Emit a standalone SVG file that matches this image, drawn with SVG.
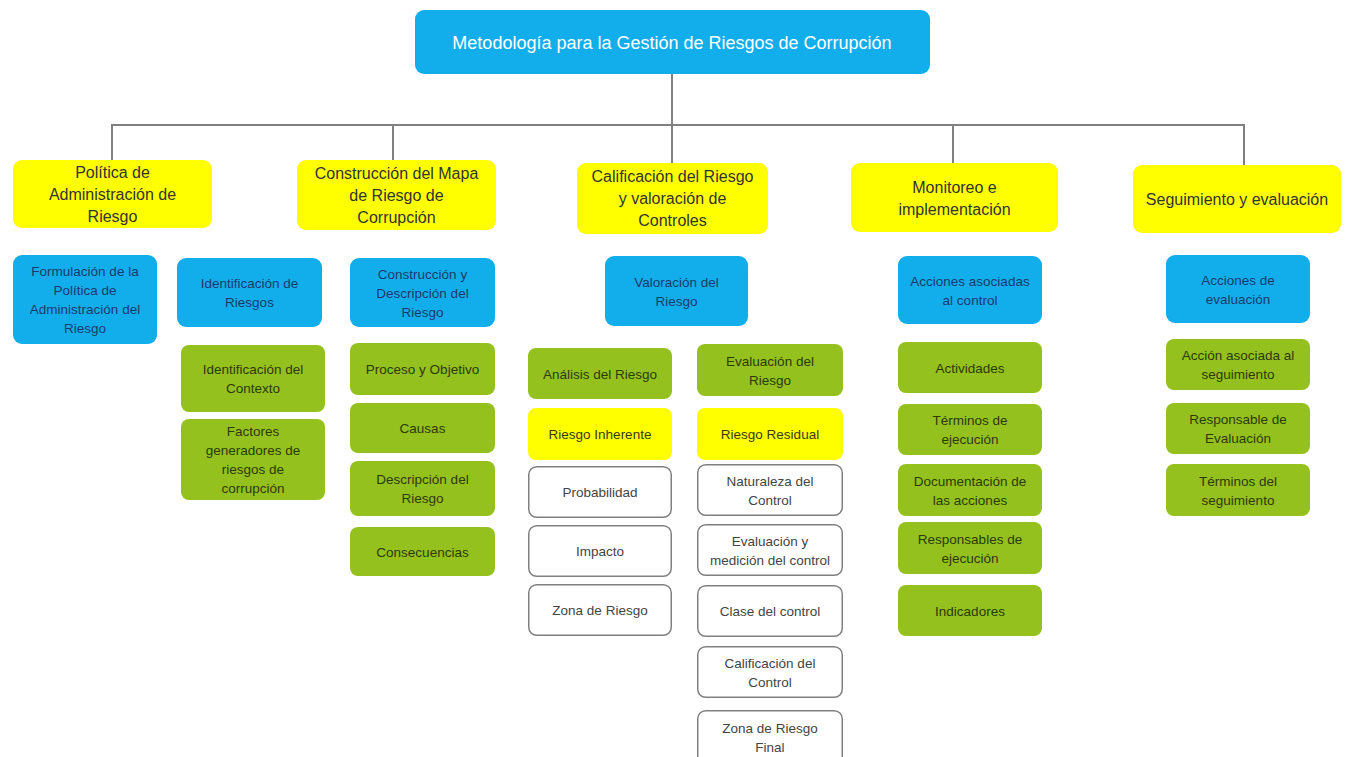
<svg xmlns="http://www.w3.org/2000/svg" width="1347" height="757" viewBox="0 0 1347 757">
<style>
.bg{fill:#ffffff}
.top{fill:#12AEEB}
.y{fill:#FFFF00}
.b{fill:#12AEEB}
.g{fill:#95C11F}
.w{fill:#ffffff;stroke:#808080;stroke-width:1.5}
text{font-family:"Liberation Sans",Arial,sans-serif;text-anchor:middle}
.tt{font-size:18px;fill:#ffffff}
.t1{font-size:16px;fill:#333333}
.tb{font-size:13.5px;fill:#1B3A6B}
.tg{font-size:13.5px;fill:#2A3A08}
.ty{font-size:13.5px;fill:#3A3A10}
.tw{font-size:13.5px;fill:#444444}
.conn line{stroke:#808080;stroke-width:2}
</style>
<rect class="bg" x="0" y="0" width="1347" height="757"/>
<g class="conn" id="connectors">
<line x1="672" y1="74" x2="672" y2="163"/>
<line x1="112" y1="125" x2="1244" y2="125"/>
<line x1="112" y1="124" x2="112" y2="160"/>
<line x1="393" y1="124" x2="393" y2="160"/>
<line x1="953" y1="124" x2="953" y2="163"/>
<line x1="1244" y1="124" x2="1244" y2="165"/>
</g>
<g id="root"><rect class="top" x="415" y="10" width="515" height="64" rx="9"/><text class="tt" x="672" y="49">Metodología para la Gestión de Riesgos de Corrupción</text></g>

<g id="n1"><rect class="y" x="13" y="160" width="199" height="68" rx="9"/><text class="t1"><tspan x="112.5" y="178">Política de</tspan><tspan x="112.5" y="200">Administración de</tspan><tspan x="112.5" y="222">Riesgo</tspan></text></g>
<g id="n2"><rect class="y" x="297" y="160" width="199" height="70" rx="9"/><text class="t1"><tspan x="396.5" y="179">Construcción del Mapa</tspan><tspan x="396.5" y="201">de Riesgo de</tspan><tspan x="396.5" y="223">Corrupción</tspan></text></g>
<g id="n3"><rect class="y" x="577" y="163" width="191" height="71" rx="9"/><text class="t1"><tspan x="672.5" y="182">Calificación del Riesgo</tspan><tspan x="672.5" y="204">y valoración de</tspan><tspan x="672.5" y="226">Controles</tspan></text></g>
<g id="n4"><rect class="y" x="851" y="163" width="207" height="69" rx="9"/><text class="t1"><tspan x="954.5" y="193">Monitoreo e</tspan><tspan x="954.5" y="215">implementación</tspan></text></g>
<g id="n5"><rect class="y" x="1133" y="165" width="208" height="68" rx="9"/><text class="t1" x="1237" y="205">Seguimiento y evaluación</text></g>

<g id="b1"><rect class="b" x="13" y="255" width="144" height="89" rx="9"/><text class="tb"><tspan x="85" y="276">Formulación de la</tspan><tspan x="85" y="295">Política de</tspan><tspan x="85" y="314">Administración del</tspan><tspan x="85" y="333">Riesgo</tspan></text></g>
<g id="b2"><rect class="b" x="177" y="258" width="145" height="69" rx="9"/><text class="tb"><tspan x="249.5" y="288">Identificación de</tspan><tspan x="249.5" y="307">Riesgos</tspan></text></g>
<g id="b3"><rect class="b" x="350" y="258" width="145" height="69" rx="9"/><text class="tb"><tspan x="422.5" y="278.5">Construcción y</tspan><tspan x="422.5" y="297.5">Descripción del</tspan><tspan x="422.5" y="316.5">Riesgo</tspan></text></g>
<g id="b4"><rect class="b" x="605" y="256" width="143" height="70" rx="9"/><text class="tb"><tspan x="676.5" y="286.5">Valoración del</tspan><tspan x="676.5" y="305.5">Riesgo</tspan></text></g>
<g id="b5"><rect class="b" x="898" y="256" width="144" height="68" rx="9"/><text class="tb"><tspan x="970" y="285.5">Acciones asociadas</tspan><tspan x="970" y="304.5">al control</tspan></text></g>
<g id="b6"><rect class="b" x="1166" y="255" width="144" height="68" rx="9"/><text class="tb"><tspan x="1238" y="284.5">Acciones de</tspan><tspan x="1238" y="303.5">evaluación</tspan></text></g>

<g id="g21"><rect class="g" x="181" y="345" width="144" height="67" rx="8"/><text class="tg"><tspan x="253" y="374">Identificación del</tspan><tspan x="253" y="393">Contexto</tspan></text></g>
<g id="g22"><rect class="g" x="181" y="419" width="144" height="81" rx="8"/><text class="tg"><tspan x="253" y="436">Factores</tspan><tspan x="253" y="455">generadores de</tspan><tspan x="253" y="474">riesgos de</tspan><tspan x="253" y="493">corrupción</tspan></text></g>

<g id="g31"><rect class="g" x="350" y="343" width="145" height="52" rx="8"/><text class="tg" x="422.5" y="374">Proceso y Objetivo</text></g>
<g id="g32"><rect class="g" x="350" y="403" width="145" height="50" rx="8"/><text class="tg" x="422.5" y="433">Causas</text></g>
<g id="g33"><rect class="g" x="350" y="461" width="145" height="55" rx="8"/><text class="tg"><tspan x="422.5" y="484">Descripción del</tspan><tspan x="422.5" y="503">Riesgo</tspan></text></g>
<g id="g34"><rect class="g" x="350" y="527" width="145" height="49" rx="8"/><text class="tg" x="422.5" y="556.5">Consecuencias</text></g>

<g id="a1"><rect class="g" x="528" y="348" width="144" height="51" rx="8"/><text class="tg" x="600" y="378.5">Análisis del Riesgo</text></g>
<g id="a2"><rect class="y" x="528" y="408" width="144" height="52" rx="8"/><text class="ty" x="600" y="439">Riesgo Inherente</text></g>
<g id="a3"><rect class="w" x="528.75" y="466.75" width="142.5" height="50.5" rx="8"/><text class="tw" x="600" y="497">Probabilidad</text></g>
<g id="a4"><rect class="w" x="528.75" y="525.75" width="142.5" height="50.5" rx="8"/><text class="tw" x="600" y="556">Impacto</text></g>
<g id="a5"><rect class="w" x="528.75" y="584.75" width="142.5" height="50.5" rx="8"/><text class="tw" x="600" y="615">Zona de Riesgo</text></g>

<g id="e1"><rect class="g" x="697" y="344" width="146" height="52" rx="8"/><text class="tg"><tspan x="770" y="365.5">Evaluación del</tspan><tspan x="770" y="384.5">Riesgo</tspan></text></g>
<g id="e2"><rect class="y" x="697" y="408" width="146" height="52" rx="8"/><text class="ty" x="770" y="439">Riesgo Residual</text></g>
<g id="e3"><rect class="w" x="697.75" y="464.75" width="144.5" height="50.5" rx="8"/><text class="tw"><tspan x="770" y="485.5">Naturaleza del</tspan><tspan x="770" y="504.5">Control</tspan></text></g>
<g id="e4"><rect class="w" x="697.75" y="524.75" width="144.5" height="50.5" rx="8"/><text class="tw"><tspan x="770" y="545.5">Evaluación y</tspan><tspan x="770" y="564.5">medición del control</tspan></text></g>
<g id="e5"><rect class="w" x="697.75" y="585.75" width="144.5" height="50.5" rx="8"/><text class="tw" x="770" y="616">Clase del control</text></g>
<g id="e6"><rect class="w" x="697.75" y="646.75" width="144.5" height="50.5" rx="8"/><text class="tw"><tspan x="770" y="667.5">Calificación del</tspan><tspan x="770" y="686.5">Control</tspan></text></g>
<g id="e7"><rect class="w" x="697.75" y="710.75" width="144.5" height="58" rx="8"/><text class="tw"><tspan x="770" y="732.5">Zona de Riesgo</tspan><tspan x="770" y="751.5">Final</tspan></text></g>

<g id="m1"><rect class="g" x="898" y="342" width="144" height="51" rx="8"/><text class="tg" x="970" y="372.5">Actividades</text></g>
<g id="m2"><rect class="g" x="898" y="404" width="144" height="51" rx="8"/><text class="tg"><tspan x="970" y="425">Términos de</tspan><tspan x="970" y="444">ejecución</tspan></text></g>
<g id="m3"><rect class="g" x="898" y="464" width="144" height="52" rx="8"/><text class="tg"><tspan x="970" y="485.5">Documentación de</tspan><tspan x="970" y="504.5">las acciones</tspan></text></g>
<g id="m4"><rect class="g" x="898" y="522" width="144" height="52" rx="8"/><text class="tg"><tspan x="970" y="543.5">Responsables de</tspan><tspan x="970" y="562.5">ejecución</tspan></text></g>
<g id="m5"><rect class="g" x="898" y="585" width="144" height="51" rx="8"/><text class="tg" x="970" y="615.5">Indicadores</text></g>

<g id="s1"><rect class="g" x="1166" y="339" width="144" height="51" rx="8"/><text class="tg"><tspan x="1238" y="360">Acción asociada al</tspan><tspan x="1238" y="379">seguimiento</tspan></text></g>
<g id="s2"><rect class="g" x="1166" y="403" width="144" height="51" rx="8"/><text class="tg"><tspan x="1238" y="424">Responsable de</tspan><tspan x="1238" y="443">Evaluación</tspan></text></g>
<g id="s3"><rect class="g" x="1166" y="464" width="144" height="52" rx="8"/><text class="tg"><tspan x="1238" y="485.5">Términos del</tspan><tspan x="1238" y="504.5">seguimiento</tspan></text></g>
</svg>
